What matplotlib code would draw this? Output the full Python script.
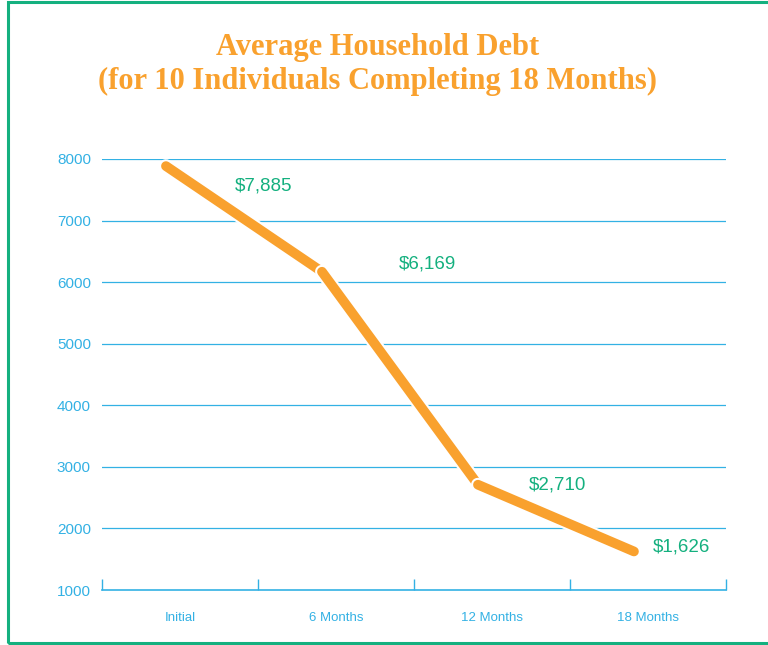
import matplotlib.pyplot as plt
import matplotlib.patheffects as pe
from matplotlib.patches import Rectangle

stages = ["Initial", "6 Months", "12 Months", "18 Months"]
debt = [7885, 6169, 2710, 1626]
debt_labels = ["$7,885", "$6,169", "$2,710", "$1,626"]
y_ticks = [1000, 2000, 3000, 4000, 5000, 6000, 7000, 8000]

ORANGE = "#f9a12e"
BLUE = "#33b1e4"
GREEN = "#14b07f"

fig = plt.figure(figsize=(7.68, 6.45), dpi=100)
ax = fig.add_axes([102 / 768, 1 - 590 / 645, 624 / 768, 431 / 645])

# green frame round the whole picture
fig.patches.append(Rectangle((8 / 768, 2 / 645), 1.0, 641 / 645, transform=fig.transFigure,
                             fill=False, edgecolor=GREEN, linewidth=2.2))

# category bands: ticks on the boundaries, labels in the middle
xs = [i + 0.41 for i in range(len(stages))]
ax.set_xlim(0, len(stages))
ax.set_ylim(y_ticks[0], y_ticks[-1])

for y in y_ticks[1:]:
    ax.axhline(y, color=BLUE, linewidth=0.9, zorder=1)

for i in range(len(debt) - 1):
    ax.plot(xs[i:i + 2], debt[i:i + 2], color=ORANGE, linewidth=7,
            solid_capstyle="round", zorder=3 + i,
            path_effects=[pe.Stroke(linewidth=10, foreground="white"), pe.Normal()])

offsets = [(98, -20), (105, 8), (80, 0), (48, 4)]
for x, y, txt, off in zip(xs, debt, debt_labels, offsets):
    ax.annotate(txt, (x, y), xytext=off, textcoords="offset pixels",
                ha="center", va="center", color=GREEN, fontsize=13.5,
                family="Liberation Sans", zorder=10)

for s in ["top", "right", "left"]:
    ax.spines[s].set_visible(False)
ax.spines["bottom"].set_color(BLUE)
ax.spines["bottom"].set_linewidth(1.2)

ax.set_xticks(range(len(stages) + 1))
ax.set_xticklabels([])
ax.set_xticks([i + 0.5 for i in range(len(stages))], minor=True)
ax.set_xticklabels(stages, minor=True, color=BLUE, fontsize=9.5, family="Liberation Sans")
ax.tick_params(axis="x", which="major", direction="in", length=8, color=BLUE, width=1)
ax.tick_params(axis="x", which="minor", length=0, pad=16)

ax.set_yticks(y_ticks)
ax.set_yticklabels([str(v) for v in y_ticks], color=BLUE, fontsize=11, family="Liberation Sans")
ax.tick_params(axis="y", length=0, pad=8)

fig.text(378 / 768, 1 - 47 / 645, "Average Household Debt", ha="center", va="center",
         color=ORANGE, fontsize=22, fontweight="bold", family="Liberation Serif")
fig.text(378 / 768, 1 - 81 / 645, "(for 10 Individuals Completing 18 Months)", ha="center",
         va="center", color=ORANGE, fontsize=22, fontweight="bold", family="Liberation Serif")

fig.savefig("out.png", dpi=100)
